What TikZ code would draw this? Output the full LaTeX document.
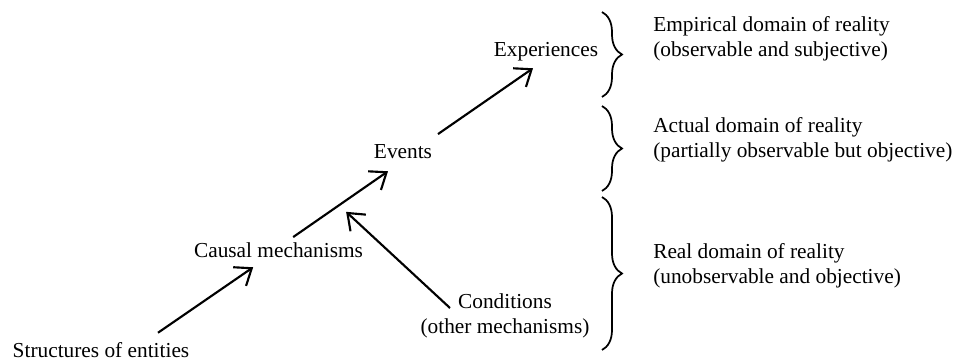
\documentclass[tikz,border=0pt]{standalone}
\usepackage{fontspec}
\setmainfont{Liberation Serif}
\usetikzlibrary{arrows.meta,decorations.pathreplacing}

\begin{document}
\begin{tikzpicture}[x=0.75pt,y=-0.75pt,
					font=\fontsize{16}{18.75}\selectfont,
					level node/.style={anchor=base,inner sep=2pt,text height=12pt,text depth=4pt},
					domain node/.style={anchor=base west,align=left,inner sep=0pt},
					cause/.style={-{Straight Barb[length=11pt,width=17pt]},line width=1.6pt},
					domain brace/.style={decorate,decoration={brace,amplitude=15pt},line width=1.3pt}]

  \useasboundingbox (0,0) rectangle (965,360);

  \node[level node] (S) at (101,357) {Structures of entities};
  \node[level node] (C) at (278.5,257) {Causal mechanisms};
  \node[level node] (E) at (403,158) {Events};
  \node[level node] (X) at (546,57) {Experiences};
  \node[anchor=north,align=center,inner sep=2pt] (K) at (505,291) {Conditions\\(other mechanisms)};

  \draw[cause] ([xshift=42.75pt,yshift=4pt]S.north) -- ([xshift=-19pt,yshift=-1.5pt]C.south);
  \draw[cause] ([xshift=11pt,yshift=0.75pt]C.north) -- ([xshift=-11.25pt,yshift=-3.75pt]E.south);
  \draw[cause] ([xshift=26.25pt,yshift=3.75pt]E.north) -- ([xshift=-9.75pt,yshift=-2.25pt]X.south);
  \draw[cause] ([xshift=-41.25pt,yshift=-12.75pt]K.north) -- ([xshift=-14.8pt,yshift=19.7pt]C.north east);

  % domains
  \draw[domain brace] (602,12) -- (602,97);
  \draw[domain brace] (602,106) -- (602,191);
  \draw[domain brace] (602,197) -- (602,350);

  \node[domain node] (emp) at (653,57) {Empirical domain of reality\\(observable and subjective)};
  \node[domain node] (act) at (653,157) {Actual domain of reality\\(partially observable but objective)};
  \node[domain node] (rea) at (653,283) {Real domain of reality\\(unobservable and objective)};
\end{tikzpicture}
\end{document}
